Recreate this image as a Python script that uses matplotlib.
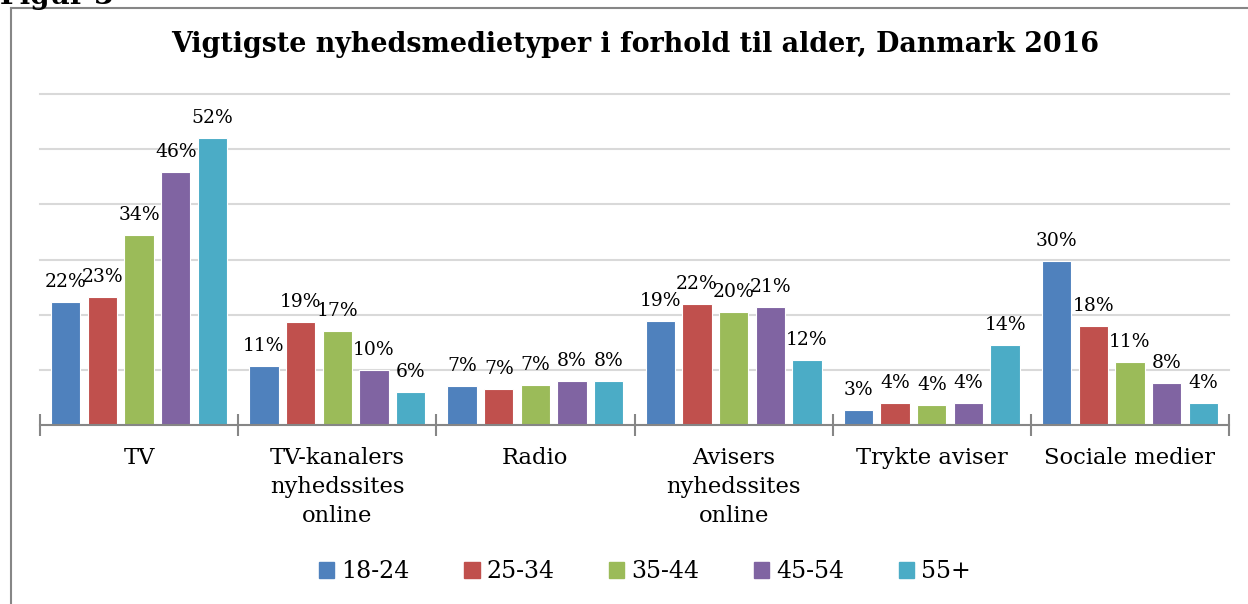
import matplotlib
matplotlib.use("Agg")
import matplotlib.pyplot as plt
import numpy as np
from matplotlib.patches import Rectangle
from matplotlib.lines import Line2D

categories = ["TV", "TV-kanalers\nnyhedssites\nonline", "Radio",
              "Avisers\nnyhedssites\nonline", "Trykte aviser", "Sociale medier"]
series = ["18-24", "25-34", "35-44", "45-54", "55+"]
v_18_24 = [22.3, 10.7, 7.1, 18.8, 2.7, 29.7]
v_25_34 = [23.2, 18.7, 6.6, 21.9, 4.0, 17.9]
v_35_44 = [34.4, 17.0, 7.2, 20.5, 3.6, 11.4]
v_45_54 = [45.8, 10.0, 8.0, 21.4, 4.0, 7.6]
v_55 = [52.0, 6.0, 8.0, 11.8, 14.5, 4.0]
values = [v_18_24, v_25_34, v_35_44, v_45_54, v_55]
colors = ["#4F81BD", "#C0504D", "#9BBB59", "#8064A2", "#4BACC6"]

W, H = 1248, 604
fig = plt.figure(figsize=(W / 100, H / 100), dpi=100)
serif = "DejaVu Serif"

# frame
fig.add_artist(Line2D([11 / W, 11 / W], [0, 1 - 8 / H], transform=fig.transFigure,
                      color="#868686", lw=1.5))
fig.add_artist(Line2D([11 / W, 1], [1 - 8 / H, 1 - 8 / H], transform=fig.transFigure,
                      color="#868686", lw=1.5))
fig.text(0 / W, 1 - 4 / H, "Figur 3", fontsize=20, fontweight="bold", family=serif,
         va="baseline", ha="left")

x0, x1 = 40, 1229
ytop, ybot = 94, 425
ax = fig.add_axes([x0 / W, 1 - ybot / H, (x1 - x0) / W, (ybot - ytop) / H])
ax.set_xlim(0, 6)
ax.set_ylim(0, 60)

step = 0.185
bw = 0.148
x = np.arange(len(categories)) + 0.5
for i, (s, vals, c) in enumerate(zip(series, values, colors)):
    xs = x + (i - 2) * step
    ax.bar(xs, vals, width=bw, color=c, edgecolor="white", linewidth=0.8, label=s, zorder=3)
    for xi, v in zip(xs, vals):
        ax.text(xi, v + 2.0, f"{v:.0f}%", ha="center", va="bottom", fontsize=13.5,
                family=serif, zorder=4)

ax.set_yticks([10, 20, 30, 40, 50, 60])
ax.yaxis.grid(True, color="#d9d9d9", lw=1.5, zorder=0)
for gl in ax.get_ygridlines():
    gl.set_clip_on(False)
ax.tick_params(axis="y", left=False, labelleft=False)
for sp in ["left", "right", "top"]:
    ax.spines[sp].set_visible(False)
ax.spines["bottom"].set_color("#868686")
ax.spines["bottom"].set_linewidth(1.5)
ax.spines["bottom"].set_zorder(5)

ax.set_xticks(np.arange(0, 7))
ax.set_xticklabels([])
ax.tick_params(axis="x", direction="inout", length=16, width=1.5, color="#868686")
ax.set_xticks(x, minor=True)
ax.set_xticklabels(categories, minor=True, fontsize=16.3, family=serif, linespacing=1.4, va="top")
ax.tick_params(axis="x", which="minor", length=0, pad=16)

fig.text(635 / W, 1 - 45 / H, "Vigtigste nyhedsmedietyper i forhold til alder, Danmark 2016",
         ha="center", va="center", fontsize=19.4, fontweight="bold", family=serif)

handles = [Rectangle((0, 0), 1, 1, color=c) for c in colors]
leg = fig.legend(handles, series, loc="center", bbox_to_anchor=(645 / W, 1 - 572 / H),
                 ncol=5, frameon=False, prop={"family": serif, "size": 17},
                 handlelength=0.65, handleheight=0.65, handletextpad=0.3, columnspacing=2.3)

fig.savefig("out.png", dpi=100)
